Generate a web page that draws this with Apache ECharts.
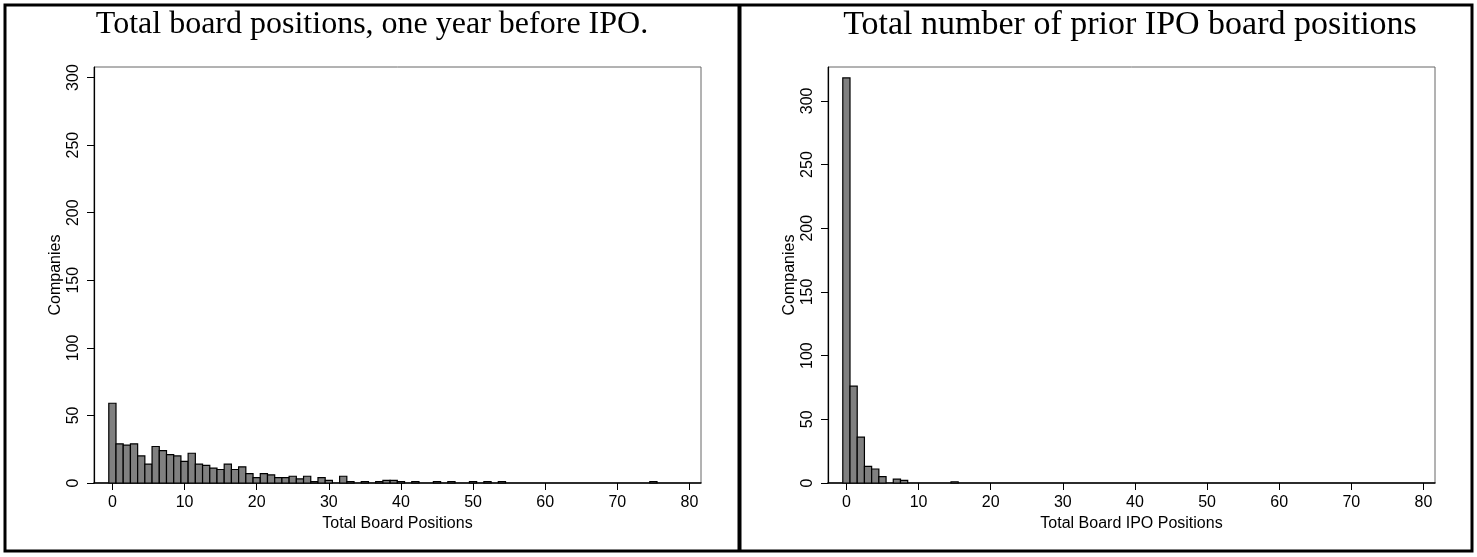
<!DOCTYPE html>
<html lang="en">
<head>
    <meta charset="UTF-8">
    <title>Board positions</title>
    <script type="text/javascript" src="https://cdn.jsdelivr.net/npm/echarts/dist/echarts.min.js"></script>
    <style>
        body { margin: 0; background: #fff; }
    </style>
</head>
<body>
<div id="main" style="width: 1477px;height:557px;"></div>
<script>
    // companies per number of board positions (index = positions, 0..80)
    var boardCounts = [
        59, 29, 28, 29, 20, 14, 27, 24, 21, 20,
        16, 22, 14, 13, 11, 10, 14, 10, 12, 7,
        4, 7, 6, 4, 4, 5, 3, 5, 1, 4,
        2, 0, 5, 1, 0, 1, 0, 1, 2, 2,
        1, 0, 1, 0, 0, 1, 0, 1, 0, 0,
        1, 0, 1, 0, 1, 0, 0, 0, 0, 0,
        0, 0, 0, 0, 0, 0, 0, 0, 0, 0,
        0, 0, 0, 0, 0, 1, 0, 0, 0, 0,
        0
    ];
    // companies per number of prior IPO board positions
    var ipoCounts = [
        318, 76, 36, 13, 11, 5, 0, 3, 2, 0,
        0, 0, 0, 0, 0, 1, 0, 0, 0, 0
    ];
    var xTicks = [0, 10, 20, 30, 40, 50, 60, 70, 80];
    var yTicks = [0, 50, 100, 150, 200, 250, 300];

    var sans = "'Liberation Sans', Arial, sans-serif";
    var serif = "'Liberation Serif', 'Times New Roman', serif";

    function toPairs(arr) {
        var out = [];
        for (var i = 0; i < arr.length; i++) {
            if (arr[i] > 0) out.push([i, arr[i]]);
        }
        return out;
    }

    function renderBar(params, api) {
        var v = api.value(0), c = api.value(1);
        var p0 = api.coord([v - 0.5, c]);
        var p1 = api.coord([v + 0.5, 0]);
        return {
            type: 'rect',
            shape: {x: p0[0], y: p0[1], width: p1[0] - p0[0], height: p1[1] - p0[1]},
            style: {fill: '#808080', stroke: '#000', lineWidth: 1.2}
        };
    }

    function xAxisOf(idx, name) {
        return {
            type: 'value', gridIndex: idx, min: -2.55, max: 81.6,
            name: name, nameLocation: 'middle', nameGap: 28,
            nameTextStyle: {fontFamily: sans, fontSize: 16, color: '#000'},
            axisLine: {show: true, onZero: false, lineStyle: {color: '#000', width: 1.5}},
            axisTick: {show: true, length: 7, customValues: xTicks, lineStyle: {color: '#000'}},
            axisLabel: {customValues: xTicks, fontFamily: sans, fontSize: 16, color: '#000', margin: 12},
            splitLine: {show: false}
        };
    }

    function yAxisOf(idx, max) {
        return {
            type: 'value', gridIndex: idx, min: 0, max: max,
            name: 'Companies', nameLocation: 'middle', nameGap: 30,
            nameTextStyle: {fontFamily: sans, fontSize: 16, color: '#000'},
            axisLine: {show: true, onZero: false, lineStyle: {color: '#000', width: 1.2}},
            axisTick: {show: true, length: 7, customValues: yTicks, lineStyle: {color: '#000'}},
            axisLabel: {customValues: yTicks, rotate: 90, fontFamily: sans, fontSize: 16, color: '#000', margin: 12},
            splitLine: {show: false}
        };
    }

    var option = {
        backgroundColor: '#fff',
        animation: false,
        grid: [
            {left: 94, top: 67, width: 607, height: 416, show: true, borderColor: '#666', borderWidth: 1},
            {left: 828, top: 67, width: 607, height: 416, show: true, borderColor: '#666', borderWidth: 1}
        ],
        xAxis: [
            xAxisOf(0, 'Total Board Positions'),
            xAxisOf(1, 'Total Board IPO Positions')
        ],
        yAxis: [
            yAxisOf(0, 307.8),
            yAxisOf(1, 326.6)
        ],
        series: [
            {type: 'custom', xAxisIndex: 0, yAxisIndex: 0, renderItem: renderBar, data: toPairs(boardCounts)},
            {type: 'custom', xAxisIndex: 1, yAxisIndex: 1, renderItem: renderBar, data: toPairs(ipoCounts)}
        ],
        graphic: [
            {type: 'rect', shape: {x: 5, y: 5, width: 1467, height: 546},
                style: {fill: null, stroke: '#000', lineWidth: 3}},
            {type: 'line', shape: {x1: 739.5, y1: 5, x2: 739.5, y2: 551},
                style: {stroke: '#000', lineWidth: 4}},
            {type: 'text', x: 372, y: 25,
                style: {text: 'Total board positions, one year before IPO.', fontFamily: serif, fontSize: 32,
                    fill: '#000', textAlign: 'center', textVerticalAlign: 'middle'}},
            {type: 'text', x: 1130, y: 25,
                style: {text: 'Total number of prior IPO board positions', fontFamily: serif, fontSize: 34,
                    fill: '#000', textAlign: 'center', textVerticalAlign: 'middle'}}
        ]
    };

    var myChart = echarts.init(document.getElementById('main'));
    myChart.setOption(option);
</script>
</body>
</html>
